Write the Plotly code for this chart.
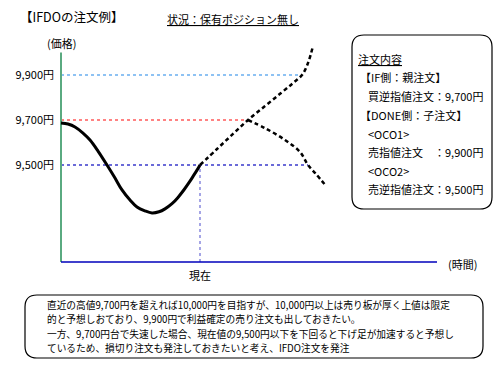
import plotly.graph_objects as go

# ---------------- data ----------------
solid_t = [0, 7, 14, 22, 29, 37, 46, 54, 61, 69, 76, 84, 91, 98, 104, 111, 117, 123, 129, 133, 137, 139]
solid_price = [9687, 9682, 9669, 9642, 9611, 9562, 9500, 9442, 9389, 9344, 9313, 9296, 9287, 9292,
               9305, 9328, 9356, 9390, 9428, 9456, 9484, 9500]
up_t = [139, 156, 172, 187, 204, 220, 232, 241, 247, 252]
up_price = [9500, 9571, 9638, 9700, 9762, 9820, 9864, 9900, 9953, 10029]
down_t = [187, 204, 224, 239, 247, 255, 265]
down_price = [9700, 9664, 9611, 9558, 9500, 9460, 9407]

level_prices = [9900, 9700, 9500]
level_labels = ["9,900円", "9,700円", "9,500円"]
level_end_t = [241, 187, 247]
now_t = 139
now_label = "現在"
axis_t_end = 376
axis_price_top = 10000
axis_price_floor = 9069

title_text = "【IFDOの注文例】"
status_text = "<u>状況：保有ポジション無し</u>"
y_title = "(価格)"
x_title = "(時間)"
box_lines = ["<u>注文内容</u>", "【IF側：親注文】", "買逆指値注文：9,700円", "【DONE側：子注文】",
             "&lt;OCO1&gt;", "売指値注文　：9,900円", "&lt;OCO2&gt;", "売逆指値注文：9,500円"]
note_lines = [
    "直近の高値9,700円を超えれば10,000円を目指すが、10,000円以上は売り板が厚く上値は限定",
    "的と予想しおており、9,900円で利益確定の売り注文も出しておきたい。",
    "一方、9,700円台で失速した場合、現在値の9,500円以下を下回ると下げ足が加速すると予想し",
    "ているため、損切り注文も発注しておきたいと考え、IFDO注文を発注",
]

# ---------------- layout helpers ----------------
W, H = 500, 380
L, R, T, B = 55, 445, 40, 270
FONT = "Noto Sans CJK JP"


def fx(px):
    return (px - L) / (R - L)


def fy(py):
    return (B - py) / (B - T)


def rrect(x0, y0, x1, y1, r):
    pts = [
        ("M", [(x0 + r, y0)]), ("L", [(x1 - r, y0)]), ("Q", [(x1, y0), (x1, y0 + r)]),
        ("L", [(x1, y1 - r)]), ("Q", [(x1, y1), (x1 - r, y1)]), ("L", [(x0 + r, y1)]),
        ("Q", [(x0, y1), (x0, y1 - r)]), ("L", [(x0, y0 + r)]), ("Q", [(x0, y0), (x0 + r, y0)]),
    ]
    s = ""
    for cmd, ps in pts:
        s += cmd + " " + " ".join(f"{fx(a):.5f},{fy(b):.5f}" for a, b in ps) + " "
    return s + "Z"


level_colors = ["#6aaef0", "#ff5a5a", "#3a3acc"]

fig = go.Figure()

for p, e, c in zip(level_prices, level_end_t, level_colors):
    fig.add_trace(go.Scatter(x=[0, e], y=[p, p], mode="lines",
                             line=dict(color=c, width=1.5, dash="dot"), hoverinfo="skip"))
fig.add_trace(go.Scatter(x=[now_t, now_t], y=[axis_price_floor, level_prices[2]], mode="lines",
                         line=dict(color="#8888dd", width=1.5, dash="dot"), hoverinfo="skip"))
fig.add_trace(go.Scatter(x=[0, 0], y=[axis_price_floor, axis_price_top], mode="lines",
                         line=dict(color="#5aaa80", width=2), hoverinfo="skip"))
fig.add_trace(go.Scatter(x=[0, axis_t_end], y=[axis_price_floor, axis_price_floor], mode="lines",
                         line=dict(color="#0000bb", width=1.5), hoverinfo="skip"))
fig.add_trace(go.Scatter(x=up_t, y=up_price, mode="lines", line_shape="spline",
                         line=dict(color="black", width=2.5, dash="4px,3px"), hoverinfo="skip"))
fig.add_trace(go.Scatter(x=down_t, y=down_price, mode="lines", line_shape="spline",
                         line=dict(color="black", width=2.5, dash="4px,3px"), hoverinfo="skip"))
fig.add_trace(go.Scatter(x=solid_t, y=solid_price, mode="lines", line_shape="spline",
                         line=dict(color="black", width=3), hoverinfo="skip"))

shapes = [
    dict(type="path", xref="paper", yref="paper", path=rrect(352, 35, 492, 209, 12),
         line=dict(color="black", width=1.2), fillcolor="rgba(0,0,0,0)"),
    dict(type="path", xref="paper", yref="paper", path=rrect(25, 295, 483, 358, 12),
         line=dict(color="black", width=1.2), fillcolor="rgba(0,0,0,0)"),
]

ann = []


def text(s, px, py, size=11, anchor="left"):
    ann.append(dict(text=s, xref="paper", yref="paper", x=fx(px), y=fy(py), xanchor=anchor,
                    yanchor="middle", align="left", showarrow=False,
                    font=dict(family=FONT, size=size, color="black")))


text(title_text, 18, 17, 12.5)
text(status_text, 165, 19, 11)
text(y_title, 61, 43, 11, "center")
text(x_title, 462, 264, 11, "center")
ann.append(dict(text=now_label, xref="x", yref="paper", x=now_t, y=fy(275), xanchor="center",
                yanchor="middle", showarrow=False, font=dict(family=FONT, size=11, color="black")))

box_x = [356, 358, 366, 358, 366, 366, 366, 366]
box_y = [59, 77, 96, 115, 134, 152, 171, 189]
for s, bx, by in zip(box_lines, box_x, box_y):
    text(s, bx, by, 11)

note_y = [305.2, 319.4, 333.6, 347.8]
for s, ny in zip(note_lines, note_y):
    text(s, 45, ny, 9.7)

fig.update_layout(
    width=W, height=H, showlegend=False, hovermode=False,
    margin=dict(l=L, r=W - R, t=T, b=H - B, pad=0),
    paper_bgcolor="white", plot_bgcolor="white",
    xaxis=dict(range=[-6, 384], showgrid=False, zeroline=False, showticklabels=False, showline=False),
    yaxis=dict(range=[9033.33, 10055.56], showgrid=False, zeroline=False, showline=False,
               tickvals=level_prices, ticktext=level_labels, ticks="",
               tickfont=dict(family=FONT, size=11, color="black")),
    shapes=shapes, annotations=ann,
)

fig.write_html("out.html", config={"displayModeBar": False},
               post_script="document.body.style.margin='0';document.body.style.overflow='hidden';")
